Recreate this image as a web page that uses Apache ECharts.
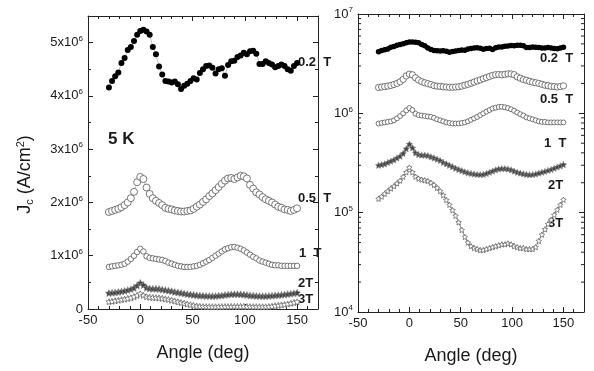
<!DOCTYPE html>
<html><head><meta charset="utf-8">
<script src="https://cdn.jsdelivr.net/npm/echarts@6/dist/echarts.min.js"></script>
<style>html,body{margin:0;padding:0;background:#fff}#c{width:594px;height:371px}</style>
</head><body><div id="c"></div>
<script>
// Angle (deg)
const angles = [-30,-27,-24,-21,-18,-15,-12,-9,-6,-3,0,3,6,9,12,15,18,21,24,27,30,33,36,39,42,45,48,51,54,57,60,63,66,69,72,75,78,81,84,87,90,93,96,99,102,105,108,111,114,117,120,123,126,129,132,135,138,141,144,147,150];
// Jc in units of 1e6 A/cm^2
const jc_02T = [4.16,4.28,4.37,4.44,4.62,4.71,4.86,4.92,5.03,5.15, 5.22,5.24,5.21,5.15,4.92,4.78,4.55,4.40,4.28,4.27, 4.25,4.27,4.22,4.13,4.19,4.23,4.28,4.33,4.31,4.43, 4.50,4.56,4.57,4.53,4.42,4.50,4.52,4.38,4.58,4.65, 4.66,4.73,4.76,4.81,4.78,4.84,4.85,4.79,4.60,4.60, 4.65,4.62,4.59,4.54,4.56,4.59,4.56,4.50,4.47,4.56, 4.62];
const jc_05T = [1.82,1.84,1.86,1.88,1.91,1.95,2.00,2.08,2.20,2.38, 2.48,2.44,2.28,2.16,2.08,2.03,1.99,1.95,1.90,1.88, 1.87,1.85,1.84,1.83,1.83,1.84,1.85,1.88,1.92,1.96, 2.01,2.06,2.12,2.17,2.23,2.29,2.35,2.41,2.45,2.46, 2.44,2.47,2.50,2.49,2.45,2.33,2.26,2.19,2.15,2.10, 2.06,2.03,2.00,1.96,1.92,1.90,1.87,1.86,1.84,1.86, 1.89];
const jc_1T = [0.79,0.80,0.81,0.82,0.83,0.85,0.89,0.94,1.00,1.07, 1.13,1.08,0.99,0.96,0.95,0.94,0.93,0.92,0.90,0.87, 0.85,0.83,0.81,0.80,0.79,0.79,0.79,0.80,0.81,0.83, 0.86,0.89,0.92,0.96,1.00,1.04,1.08,1.12,1.14,1.16, 1.165,1.15,1.13,1.10,1.06,1.02,0.98,0.95,0.91,0.89, 0.87,0.85,0.83,0.82,0.82,0.81,0.81,0.81,0.81,0.81, 0.81];
// Jc in units of 1e5 A/cm^2
const jc_2T = [3.00,3.05,3.10,3.20,3.30,3.40,3.55,3.70,3.95,4.40, 4.90,4.50,4.00,3.85,3.80,3.80,3.75,3.65,3.55,3.45, 3.35,3.20,3.10,3.00,2.90,2.80,2.72,2.65,2.58,2.52, 2.48,2.45,2.43,2.42,2.43,2.48,2.55,2.62,2.70,2.76, 2.78,2.78,2.75,2.70,2.62,2.55,2.50,2.46,2.43,2.41, 2.42,2.45,2.50,2.55,2.60,2.66,2.72,2.80,2.88,2.96, 3.05];
const jc_3T = [1.38,1.45,1.55,1.65,1.75,1.85,1.97,2.10,2.30,2.55, 2.85,2.55,2.30,2.20,2.15,2.12,2.08,2.00,1.90,1.78, 1.65,1.50,1.34,1.20,1.06,0.93,0.80,0.67,0.57,0.50, 0.46,0.44,0.43,0.42,0.42,0.43,0.44,0.45,0.46,0.47, 0.48,0.48,0.49,0.48,0.46,0.45,0.44,0.44,0.43,0.43, 0.43,0.45,0.52,0.60,0.68,0.77,0.85,0.95,1.07,1.20, 1.35];
// axis tick labels
const xTicks = [-50,0,50,100,150];
const linTicksMA = [0,1,2,3,4,5];
const logMinorTicks = [2e4,3e4,4e4,5e4,6e4,7e4,8e4,9e4,2e5,3e5,4e5,5e5,6e5,7e5,8e5,9e5,2e6,3e6,4e6,5e6,6e6,7e6,8e6,9e6];
const fieldLabels = ['0.2  T','0.5  T','1  T','2T','3T'];

const FONT = "'Liberation Sans', Arial, sans-serif";
const C = '#1a1a1a';
const richBase = {
  n:{fontSize:13, fontFamily:FONT, color:C},
  s:{fontSize:8, fontFamily:FONT, color:C, padding:[0,0,8,0]}
};
const STAR = 'path://M0,-10L2.9,-4L9.5,-3.1L4.8,1.5L5.9,8.1L0,5L-5.9,8.1L-4.8,1.5L-9.5,-3.1L-2.9,-4Z';
const pairs = (vals, scale) => angles.map((a,i)=>[a, vals[i]*scale]);

function xAxisDef(grid, pos, show){
  return {
    type:'value', gridIndex:grid, position:pos, min:-50, max:170, interval:50,
    axisLine:{show:true, onZero:false, lineStyle:{color:'#222', width:1}},
    axisTick:{show:true, inside:true, length:5, lineStyle:{color:'#222'}},
    minorTick:{show:true, splitNumber:5, length:3, lineStyle:{color:'#222'}},
    splitLine:{show:false},
    axisLabel:{show:show, margin:5, fontSize:13, fontFamily:FONT, color:C,
      formatter:v=> xTicks.includes(v) ? String(v) : ''},
    name: show ? 'Angle (deg)' : '', nameLocation:'middle', nameGap:35,
    nameTextStyle:{fontSize:18, fontFamily:FONT, color:C}
  };
}
function yLin(pos, show){
  return {
    type:'value', gridIndex:0, position:pos, min:0, max:5.5e6, interval:1e6,
    axisLine:{show:true, onZero:false, lineStyle:{color:'#222'}},
    axisTick:{show:true, inside:true, length:5, lineStyle:{color:'#222'}},
    minorTick:{show:true, splitNumber:2, length:3, lineStyle:{color:'#222'}},
    splitLine:{show:false},
    axisLabel:{show:show, margin:5, rich:richBase, formatter:v=>{
      const m = v/1e6; if(!linTicksMA.includes(m)) return '';
      return m===0 ? '{n|0}' : '{n|'+m+'x10}{s|6}'; }},
    name: show ? '{j|J}{c|c}{j| (A/cm}{t|2}{j|)}' : '', nameLocation:'middle', nameGap:52, nameRotate:90,
    nameTextStyle:{padding:[0,24,0,0], rich:{
      j:{fontSize:18, fontFamily:FONT, color:C},
      c:{fontSize:11, fontFamily:FONT, color:C, padding:[9,0,0,0]},
      t:{fontSize:11, fontFamily:FONT, color:C, padding:[0,0,10,0]}
    }}
  };
}
function yLog(pos, show){
  return {
    type:'log', logBase:10, gridIndex:1, position:pos, min:1e4, max:1e7,
    axisLine:{show:true, onZero:false, lineStyle:{color:'#222'}},
    axisTick:{show:true, inside:true, length:5, lineStyle:{color:'#222'}},
    minorTick:{show:false},
    splitLine:{show:false},
    axisLabel:{show:show, margin:5, rich:richBase,
      formatter:v=>'{n|10}{s|'+Math.round(Math.log10(v))+'}'}
  };
}

function seriesSet(xi, yi, right){
  const k = right ? 0.9 : 1;
  const thin = {color:'#999', width:0.6};
  return [
    {type:'line', xAxisIndex:xi, yAxisIndex:yi, data:pairs(jc_02T,1e6), symbol:'circle', symbolSize:(right?5.5:6),
      itemStyle:{color:'#000', borderColor:'#000', borderWidth:0}, lineStyle: right ? {color:'#000', width:4} : thin, showAllSymbol:true},
    {type:'line', xAxisIndex:xi, yAxisIndex:yi, data:pairs(jc_05T,1e6), symbol:'circle', symbolSize:7*k,
      itemStyle:{color:'#fff', borderColor:'#555', borderWidth:0.8}, lineStyle:thin, showAllSymbol:true},
    {type:'line', xAxisIndex:xi, yAxisIndex:yi, data:pairs(jc_1T,1e6), symbol:'circle', symbolSize:5.5*k,
      itemStyle:{color:'#fff', borderColor:'#555', borderWidth:0.8}, lineStyle:thin, showAllSymbol:true},
    {type:'line', xAxisIndex:xi, yAxisIndex:yi, data:pairs(jc_2T,1e5), symbol:STAR, symbolSize:7*k,
      itemStyle:{color:'#444', borderColor:'#999', borderWidth:0.6}, lineStyle:{color:'#444', width:2}, showAllSymbol:true},
    {type:'line', xAxisIndex:xi, yAxisIndex:yi, data:pairs(jc_3T,1e5), symbol:STAR, symbolSize:6*k,
      itemStyle:{color:'#fff', borderColor:'#666', borderWidth:0.8}, lineStyle:{color:'#888', width:1}, showAllSymbol:true}
  ];
}

const chart = echarts.init(document.getElementById('c'), null, {renderer:'canvas'});
const label = (x, y, text, size) => ({type:'text', x, y, style:{text, fontSize:size||13, fontWeight:'bold', fontFamily:FONT, fill:C, verticalAlign:'middle'}});
const option = {
  animation:false,
  backgroundColor:'#fff',
  grid:[
    {left:88, top:16, width:230, height:293, outerBoundsMode:'none', containLabel:false},
    {left:358, top:14, width:226, height:298, outerBoundsMode:'none', containLabel:false}
  ],
  xAxis:[xAxisDef(0,'bottom',true), xAxisDef(0,'top',false), xAxisDef(1,'bottom',true), xAxisDef(1,'top',false)],
  yAxis:[yLin('left',true), yLin('right',false), yLog('left',true), yLog('right',false)],
  series:[
    ...seriesSet(0,0,false),
    ...seriesSet(2,2,true),
    {type:'custom', xAxisIndex:2, yAxisIndex:2, data:logMinorTicks.map(v=>[0,v]), silent:true, z:10,
      renderItem:(params, api)=>{
        const v = api.value(1);
        const pL = api.coord([-50, v]);
        const pR = api.coord([170, v]);
        return {type:'group', children:[
          {type:'line', shape:{x1:pL[0], y1:pL[1], x2:pL[0]+3, y2:pL[1]}, style:{stroke:'#222', lineWidth:1}},
          {type:'line', shape:{x1:pR[0]-3, y1:pR[1], x2:pR[0], y2:pR[1]}, style:{stroke:'#222', lineWidth:1}}
        ]};
      }}
  ],
  graphic:[
    label(108, 139, '5 K', 17),
    label(298, 62, fieldLabels[0]),
    label(298, 198, fieldLabels[1]),
    label(299, 253, fieldLabels[2]),
    label(298, 283, fieldLabels[3]),
    label(298, 299, fieldLabels[4]),
    label(540, 58, fieldLabels[0]),
    label(540, 99, fieldLabels[1]),
    label(544, 143, fieldLabels[2]),
    label(548, 185, fieldLabels[3]),
    label(548, 223, fieldLabels[4])
  ]
};
chart.setOption(option);
</script>
</body></html>
